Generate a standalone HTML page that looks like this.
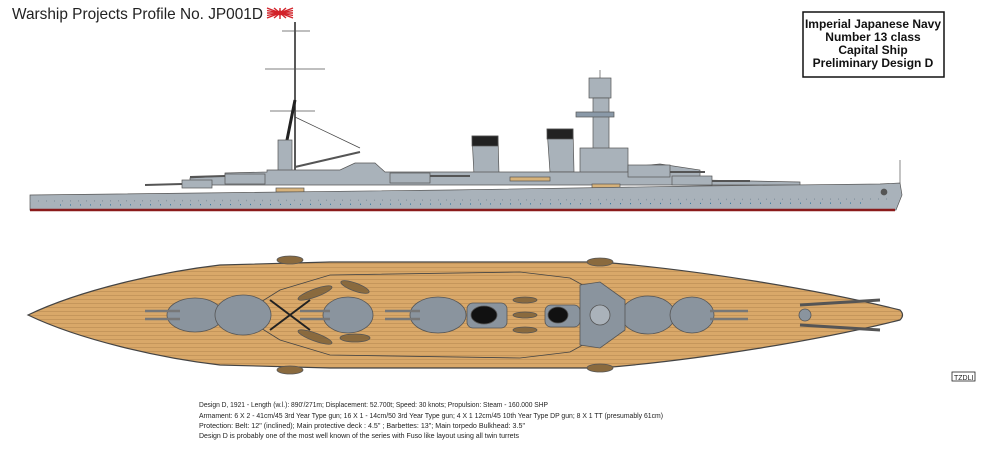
<!DOCTYPE html>
<html><head><meta charset="utf-8"><style>
html,body{margin:0;padding:0;background:#fff;width:1000px;height:454px;overflow:hidden}
svg{display:block}
.t{font-family:"Liberation Sans",sans-serif}
</style></head><body>
<svg width="1000" height="454" viewBox="0 0 1000 454" xmlns="http://www.w3.org/2000/svg">
<defs>
<pattern id="planks" width="6" height="4" patternUnits="userSpaceOnUse">
<rect width="6" height="4" fill="#d9a869"/>
<line x1="0" y1="3.5" x2="6" y2="3.5" stroke="#b88a52" stroke-width="0.6"/>
</pattern>
</defs>
<!-- title -->
<text x="12" y="19" class="t" font-size="16" fill="#222" textLength="251" lengthAdjust="spacingAndGlyphs">Warship Projects Profile No. JP001D</text>
<g transform="translate(280,13)">
<rect x="-13" y="-5" width="26" height="11" fill="#fff"/>
<g stroke="#d2232a" stroke-width="1.4">
<line x1="-13" y1="0" x2="13" y2="0"/><line x1="-13" y1="-5" x2="13" y2="5"/><line x1="-13" y1="5" x2="13" y2="-5"/>
<line x1="-6" y1="-5" x2="6" y2="5"/><line x1="-6" y1="5" x2="6" y2="-5"/><line x1="0" y1="-5" x2="0" y2="6"/>
<line x1="-13" y1="-2.5" x2="13" y2="2.5"/><line x1="-13" y1="2.5" x2="13" y2="-2.5"/>
</g><circle r="2.5" fill="#d2232a"/>
</g>
<!-- info box -->
<rect x="803" y="12" width="141" height="65" fill="#fff" stroke="#111" stroke-width="1.5"/>
<g class="t" font-size="12" font-weight="bold" text-anchor="middle" fill="#111">
<text x="873" y="28">Imperial Japanese Navy</text>
<text x="873" y="41">Number 13 class</text>
<text x="873" y="54">Capital Ship</text>
<text x="873" y="67">Preliminary Design D</text>
</g>

<!-- SIDE PROFILE -->
<g stroke="#555" stroke-width="0.7">
<line x1="295" y1="22" x2="295" y2="172" stroke="#222" stroke-width="1.5"/>
<line x1="282" y1="31" x2="310" y2="31"/><line x1="265" y1="69" x2="325" y2="69"/>
<line x1="270" y1="111" x2="315" y2="111"/>
<line x1="295" y1="100" x2="285" y2="150" stroke="#222" stroke-width="3"/>
<line x1="295" y1="117" x2="360" y2="148" stroke="#444"/>
<line x1="295" y1="167" x2="360" y2="152" stroke="#555" stroke-width="2"/>
<rect x="278" y="140" width="14" height="35" fill="#a9b2ba"/>
<path d="M472 136 L498 136 L499 175 L474 175 Z" fill="#a9b2ba"/>
<rect x="472" y="136" width="26" height="10" fill="#222"/>
<path d="M547 129 L573 129 L574 172 L550 172 Z" fill="#a9b2ba"/>
<rect x="547" y="129" width="26" height="10" fill="#222"/>
<rect x="589" y="78" width="22" height="20" fill="#a9b2ba"/>
<rect x="593" y="98" width="16" height="60" fill="#a9b2ba"/>
<rect x="576" y="112" width="38" height="5" fill="#8a99a8"/>
<rect x="580" y="148" width="48" height="30" fill="#a9b2ba"/>
<line x1="600" y1="70" x2="600" y2="78"/>
<path d="M190 185 L190 178 L225 176 L225 173 L267 172 L267 170 L340 170 L355 163 L375 163 L385 172 L640 172 L640 166 L660 164 L700 170 L700 180 L800 182 L800 185 Z" fill="#a9b2ba"/>
<rect x="182" y="180" width="30" height="8" fill="#a9b2ba"/><line x1="145" y1="185" x2="182" y2="184" stroke-width="2"/>
<rect x="225" y="174" width="40" height="10" fill="#a9b2ba"/><line x1="190" y1="177" x2="225" y2="176" stroke-width="2"/>
<rect x="390" y="173" width="40" height="10" fill="#a9b2ba"/><line x1="430" y1="176" x2="470" y2="176" stroke-width="2"/>
<rect x="628" y="165" width="42" height="12" fill="#a9b2ba"/><line x1="670" y1="172" x2="705" y2="172" stroke-width="2"/>
<rect x="672" y="176" width="40" height="9" fill="#a9b2ba"/><line x1="712" y1="181" x2="750" y2="181" stroke-width="2"/>
<rect x="276" y="188" width="28" height="4" fill="#d7b27a"/>
<rect x="592" y="184" width="28" height="4" fill="#d7b27a"/>
<rect x="510" y="177" width="40" height="4" fill="#d7b27a"/>
<path d="M30 195 L200 193 L450 190 L700 186 L880 184 L900 183 L902 195 L896 210 L30 210 Z" fill="#a9b2ba" stroke="#555"/>
<line x1="30" y1="210" x2="895" y2="210" stroke="#8a1a1a" stroke-width="2.5"/>
<line x1="30" y1="201" x2="890" y2="199" stroke="#8a97a2" stroke-dasharray="1 7" stroke-width="1.5"/>
<line x1="60" y1="205" x2="870" y2="203" stroke="#3a7aa0" stroke-dasharray="1 9" stroke-width="1.2"/>
<line x1="900" y1="160" x2="900" y2="183"/>
<circle cx="884" cy="192" r="3" fill="#555"/>
</g>

<!-- PLAN VIEW -->
<g stroke="#555" stroke-width="0.8">
<path d="M28 315 C 80 290, 160 272, 220 265 L 330 262 L 600 262 C 700 270, 820 290, 900 310 Q 905 315 900 320 C 820 340, 700 360, 600 368 L 330 368 L 220 365 C 160 358, 80 340, 28 315 Z" fill="url(#planks)" stroke="#444" stroke-width="1.2"/>
<path d="M240 315 L280 290 L330 275 L520 272 L570 278 L610 300 L640 315 L610 330 L570 352 L520 358 L330 355 L280 340 Z" fill="none" stroke="#444"/>
<g fill="#8a949e">
<ellipse cx="195" cy="315" rx="28" ry="17"/>
<ellipse cx="243" cy="315" rx="28" ry="20"/>
<ellipse cx="348" cy="315" rx="25" ry="18"/>
<ellipse cx="438" cy="315" rx="28" ry="18"/>
<ellipse cx="648" cy="315" rx="27" ry="19"/>
<ellipse cx="692" cy="315" rx="22" ry="18"/>
</g>
<g stroke="#777" stroke-width="2.5">
<line x1="145" y1="311" x2="180" y2="311"/><line x1="145" y1="319" x2="180" y2="319"/>
<line x1="300" y1="311" x2="330" y2="311"/><line x1="300" y1="319" x2="330" y2="319"/>
<line x1="385" y1="311" x2="420" y2="311"/><line x1="385" y1="319" x2="420" y2="319"/>
<line x1="710" y1="311" x2="748" y2="311"/><line x1="710" y1="319" x2="748" y2="319"/>
</g>
<rect x="467" y="303" width="40" height="25" rx="6" fill="#8a949e"/>
<ellipse cx="484" cy="315" rx="13" ry="9" fill="#111"/>
<rect x="545" y="305" width="35" height="22" rx="6" fill="#8a949e"/>
<ellipse cx="558" cy="315" rx="10" ry="8" fill="#111"/>
<path d="M580 285 L600 282 L625 300 L625 330 L600 348 L580 345 Z" fill="#8a949e"/>
<circle cx="600" cy="315" r="10" fill="#aab2ba"/>
<g stroke="#222" stroke-width="2"><line x1="270" y1="300" x2="310" y2="330"/><line x1="270" y1="330" x2="310" y2="300"/></g>
<g fill="#8a6a3e">
<ellipse cx="290" cy="260" rx="13" ry="4"/><ellipse cx="290" cy="370" rx="13" ry="4"/>
<ellipse cx="600" cy="262" rx="13" ry="4"/><ellipse cx="600" cy="368" rx="13" ry="4"/>
<ellipse cx="315" cy="293" rx="18" ry="4" transform="rotate(-20 315 293)"/>
<ellipse cx="315" cy="337" rx="18" ry="4" transform="rotate(20 315 337)"/>
<ellipse cx="355" cy="287" rx="15" ry="4" transform="rotate(20 355 287)"/>
<ellipse cx="355" cy="338" rx="15" ry="4"/>
<ellipse cx="525" cy="300" rx="12" ry="3"/><ellipse cx="525" cy="330" rx="12" ry="3"/>
<ellipse cx="525" cy="315" rx="12" ry="3"/>
</g>
<path d="M800 305 L880 300 M800 325 L880 330" stroke="#555" stroke-width="3"/>
<circle cx="805" cy="315" r="6" fill="#8a949e"/>
</g>
<rect x="952" y="372" width="23" height="9" fill="#fff" stroke="#222" stroke-width="0.8"/>
<text x="954" y="380" class="t" font-size="7" fill="#222">TZDLI</text>

<g class="t" font-size="7.4" fill="#222" lengthAdjust="spacingAndGlyphs">
<text x="199" y="407" textLength="349" lengthAdjust="spacingAndGlyphs">Design D, 1921 - Length (w.l.): 890'/271m; Displacement: 52.700t; Speed: 30 knots; Propulsion: Steam - 160.000 SHP</text>
<text x="199" y="418" textLength="464" lengthAdjust="spacingAndGlyphs">Armament: 6 X 2 - 41cm/45 3rd Year Type gun; 16 X 1 - 14cm/50 3rd Year Type gun; 4 X 1 12cm/45 10th Year Type DP gun; 8 X 1 TT (presumably 61cm)</text>
<text x="199" y="428" textLength="326" lengthAdjust="spacingAndGlyphs">Protection: Belt: 12" (inclined); Main protective deck : 4.5" ; Barbettes: 13"; Main torpedo Bulkhead: 3.5"</text>
<text x="199" y="438" textLength="320" lengthAdjust="spacingAndGlyphs">Design D is probably one of the most well known of the series with Fuso like layout using all twin turrets</text>
</g>
</svg>
</body></html>
